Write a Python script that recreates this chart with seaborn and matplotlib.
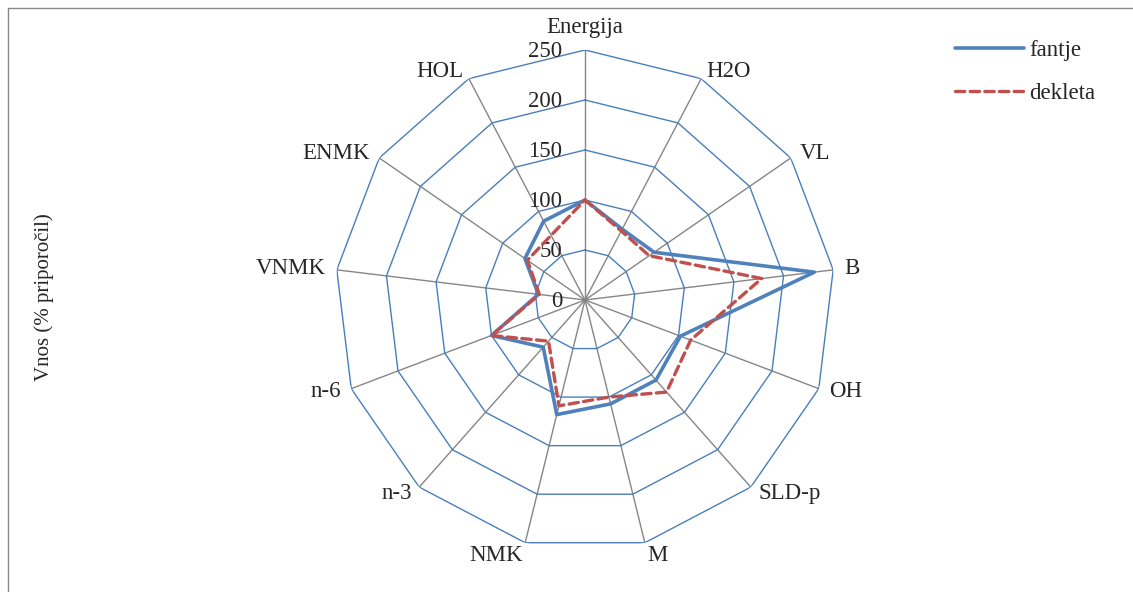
import numpy as np
import pandas as pd
import matplotlib
matplotlib.use("Agg")
import matplotlib.pyplot as plt
import seaborn as sns
from matplotlib.lines import Line2D

categories = ["Energija", "H2O", "VL", "B", "OH", "SLD-p", "M", "NMK",
              "n-3", "n-6", "VNMK", "ENMK", "HOL"]
fantje = [100, 80, 84, 231, 102, 107, 107, 118, 63, 100, 47, 73, 89]
dekleta = [100, 78, 78, 178, 113, 123, 100, 109, 55, 100, 46, 70, 73]
r_ticks = [0, 50, 100, 150, 200, 250]
y_label = "Vnos (% priporočil)"

sns.set_style("white")
plt.rcParams["font.family"] = ["Liberation Serif", "DejaVu Serif"]

W, H = 1133, 592
fig = plt.figure(figsize=(W / 100, H / 100), dpi=100)
cx, cy, R = 585, 300, 250
ax = fig.add_axes([(cx - R) / W, (H - cy - R) / H, 2 * R / W, 2 * R / H], projection="polar")
ax.set_theta_zero_location("N")
ax.set_theta_direction(-1)
ax.set_ylim(0, r_ticks[-1])
ax.grid(False)
ax.set_xticks([])
ax.set_yticks([])
ax.spines["polar"].set_visible(False)
ax.patch.set_alpha(0)

n = len(categories)
theta = np.linspace(0, 2 * np.pi, n, endpoint=False)
theta_c = np.append(theta, theta[0] + 2 * np.pi)

ring_col = "#4A7EBB"
spoke_col = "#868686"
for t in theta:
    ax.plot([t, t], [0, r_ticks[-1]], color=spoke_col, lw=1.0, zorder=1)
for r in r_ticks[1:]:
    ax.plot(theta_c, [r] * (n + 1), color=ring_col, lw=1.0, zorder=2)

def closed(v):
    return list(v) + [v[0]]

sns.lineplot(x=theta_c, y=closed(fantje), ax=ax, sort=False, estimator=None,
             color="#4F81BD", lw=2.6, label="fantje", zorder=4)
sns.lineplot(x=theta_c, y=closed(dekleta), ax=ax, sort=False, estimator=None,
             color="#C0504D", lw=2.4, label="dekleta", zorder=5)
ax.lines[-1].set_dashes((2.8, 1.6))
ax.lines[-1].set_dash_capstyle("round")

fs = 16.5
for t, lab in zip(theta, categories):
    s, c = np.sin(t), np.cos(t)
    ha = "left" if s > 0.05 else ("right" if s < -0.05 else "center")
    if c > 0.95:
        va, dx, dy = "bottom", 0, 9
    elif c < -0.9:
        va, dx, dy = "top", 1.5 * np.sign(s), -1.5
    else:
        va, dx, dy = "center", 8 * s, 6 * c
    ax.annotate(lab, xy=(t, r_ticks[-1]), xytext=(dx, dy),
                textcoords="offset points", ha=ha, va=va, fontsize=fs,
                annotation_clip=False)

for r in r_ticks:
    ax.annotate(str(r), xy=(0, r), xytext=(-16.5, -1), textcoords="offset points",
                ha="right", va="center", fontsize=fs, annotation_clip=False)

leg = ax.legend(loc="upper left", bbox_to_anchor=(955 / W, 1 - 40 / H),
                bbox_transform=fig.transFigure, frameon=False, fontsize=fs,
                handlelength=3.0, labelspacing=0.95, handletextpad=0.25,
                borderaxespad=0, borderpad=0)

fig.text(44 / W, 1 - 297 / H, y_label, rotation=90, ha="center", va="center", fontsize=15)

bx, by = 8 / W, 1 - 8 / H
fig.add_artist(Line2D([bx, bx], [0, by], transform=fig.transFigure, color="#888888", lw=1.0))
fig.add_artist(Line2D([bx, 1], [by, by], transform=fig.transFigure, color="#888888", lw=1.0))

fig.savefig("out.png", dpi=100)
